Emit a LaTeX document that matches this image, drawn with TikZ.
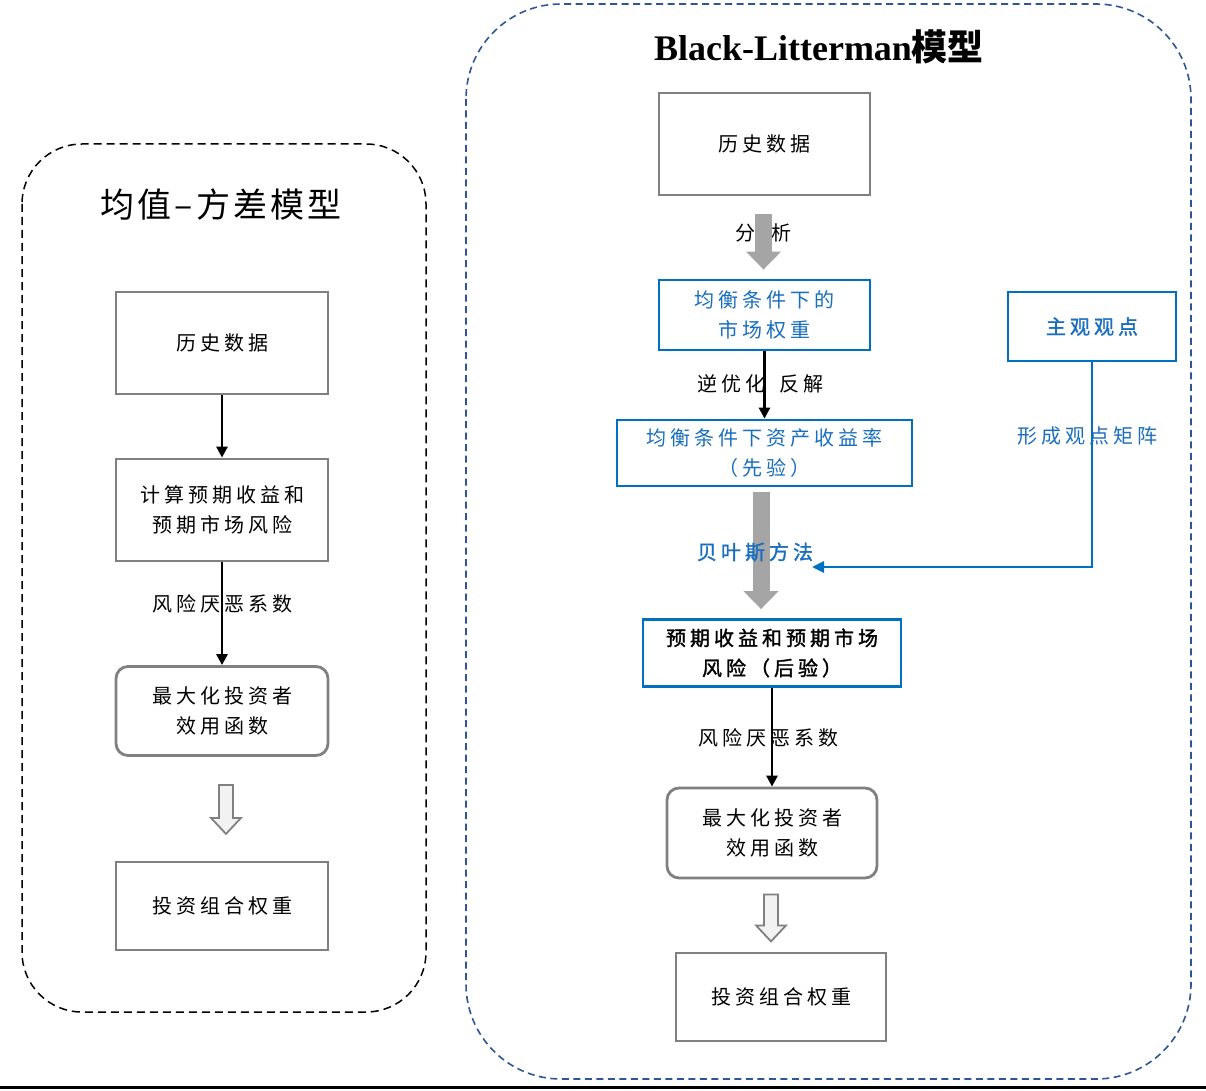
\documentclass[tikz,border=0pt]{standalone}
\usepackage{fontspec}
\setmainfont{Liberation Serif}
\newfontfamily\cjk[LetterSpace=20]{Noto Sans CJK SC}
\newfontfamily\cjkb[LetterSpace=20,FakeBold=1.5]{Noto Sans CJK SC}
\newfontfamily\cjkt[LetterSpace=9]{Noto Sans CJK SC}
\newfontfamily\cjkplain{Noto Sans CJK SC}
\usetikzlibrary{arrows.meta,calc}
\definecolor{boxgray}{RGB}{128,128,128}
\definecolor{bblue}{RGB}{0,112,192}
\definecolor{tblue}{RGB}{25,110,190}
\definecolor{dblue}{RGB}{47,85,151}
\definecolor{arrgray}{RGB}{165,165,165}
\definecolor{hfill}{RGB}{242,242,242}
\begin{document}
\begin{tikzpicture}[x=1pt,y=-1pt,
  cjkfont/.style={font=\fontsize{20pt}{30pt}\selectfont\cjk},
  graybox/.style={draw=boxgray, line width=2.8pt, fill=white, align=center, inner sep=0pt, cjkfont},
  bluebox/.style={draw=bblue, line width=2.8pt, fill=white, align=center, inner sep=0pt, text=tblue, cjkfont},
  lbl/.style={inner sep=0pt, cjkfont},
  blackarrow/.style={line width=2.7pt, -{Triangle[width=11pt,length=11pt]}},
  bluearrow/.style={draw=bblue, line width=2.7pt, -{Triangle[width=11pt,length=12pt]}},
  grayarrow/.style={draw=arrgray, line width=17pt, -{Triangle[width=34pt,length=18pt]}},
  hollow/.style={draw=boxgray, fill=hfill, line width=1.8pt, line join=miter}
]
\useasboundingbox (0,0) rectangle (1206,1091);

% containers
\draw[black, line width=1.5pt, dash pattern=on 8pt off 5pt, rounded corners=60pt] (22,144) rectangle (426,1012);
\draw[dblue, line width=1.6pt, dash pattern=on 7pt off 4.5pt, rounded corners=95pt] (466,4) rectangle (1191,1079);

% titles
\node[inner sep=0pt, font=\fontsize{34pt}{40pt}\selectfont\cjkt] (ltitle) at (221,205) {均值–方差模型};
\node[inner sep=0pt, font=\fontsize{36pt}{40pt}\selectfont\bfseries] (rtitle) at (819,47) {Black-Litterman{\cjkplain 模型}};

% left column
\node[graybox, minimum width=212pt, minimum height=102pt] (lh) at (222,343) {历史数据};
\node[graybox, minimum width=212pt, minimum height=102pt] (lc) at (222,510) {计算预期收益和\\预期市场风险};
\node[graybox, minimum width=212pt, minimum height=89pt, rounded corners=12pt] (lm) at (222,711) {最大化投资者\\效用函数};
\node[graybox, minimum width=212pt, minimum height=88pt] (lw) at (222,906) {投资组合权重};
\node[lbl] (lrisk) at (222,604) {风险厌恶系数};

% right column
\node[graybox, minimum width=211pt, minimum height=102pt] (rh) at (764.5,144) {历史数据};
\node[bluebox, minimum width=211pt, minimum height=70pt] (rq) at (764.5,315) {均衡条件下的\\市场权重};
\node[bluebox, minimum width=295pt, minimum height=66pt] (rp) at (764.5,453) {均衡条件下资产收益率\\（先验）};
\node[bluebox, minimum width=168pt, minimum height=69pt, font=\fontsize{20pt}{30pt}\selectfont\cjkb] (rv) at (1092,326.5) {主观观点};
\node[bluebox, text=black, minimum width=258pt, minimum height=67pt, font=\fontsize{20pt}{30pt}\selectfont\cjkb] (rpost) at (772,653) {预期收益和预期市场\\风险（后验）};
\node[graybox, minimum width=210pt, minimum height=90pt, rounded corners=12pt] (rm) at (772,833) {最大化投资者\\效用函数};
\node[graybox, minimum width=210pt, minimum height=88pt] (rw) at (781,997) {投资组合权重};

% gray block arrows (behind labels)
\draw[grayarrow] ([xshift=-1pt,yshift=-18pt]rh.south) -- ([xshift=-1pt,yshift=9pt]rq.north);
\draw[grayarrow] ([xshift=-3.5pt,yshift=-5pt]rp.south) -- ([xshift=-11pt,yshift=9pt]rpost.north);

% labels
\node[lbl] (lfx) at (763,233) {分\hspace{16pt}析};
\node[lbl] (lny) at (760,384) {逆优化\hspace{14pt}反解};
\node[lbl, text=tblue, font=\fontsize{20pt}{30pt}\selectfont\cjkb] (lby) at (755,552) {贝叶斯方法};
\node[lbl, text=tblue] (lxc) at (1087,436) {形成观点矩阵};
\node[lbl] (rrisk) at (768,738) {风险厌恶系数};

% left connectors
\draw[blackarrow] (lh.south) -- (lc.north);
\draw[blackarrow] (lc.south) -- (lm.north);
\draw[hollow] ([xshift=-3pt,yshift=-28pt]lm.south) -- ++(14,0) -- ++(0,33) -- ++(8,0) -- ++(-15,16) -- ++(-15,-16) -- ++(8,0) -- cycle;

% right connectors
\draw[blackarrow] (rq.south) -- (rp.north);
\coordinate (bayesend) at (812,567);
\draw[bluearrow] (rv.south) |- (bayesend);
\draw[blackarrow] (rpost.south) -- (rm.north);
\draw[hollow] ([xshift=-8pt,yshift=-15pt]rm.south) -- ++(14,0) -- ++(0,31) -- ++(8,0) -- ++(-15,16) -- ++(-15,-16) -- ++(8,0) -- cycle;

% bottom rule
\coordinate (bl) at (0,1087);
\coordinate (br) at (1206,1087);
\draw[line width=3pt] (bl) -- (br);
\end{tikzpicture}
\end{document}
